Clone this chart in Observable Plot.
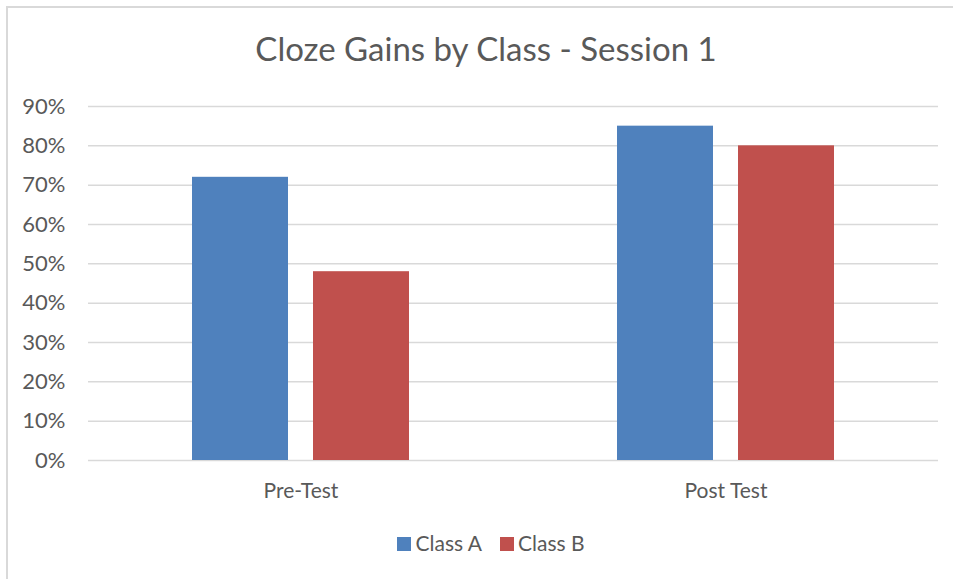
<!DOCTYPE html>
<html>
<head>
<meta charset="utf-8">
<script src="https://cdn.jsdelivr.net/npm/d3@7"></script>
<script src="https://cdn.jsdelivr.net/npm/@observablehq/plot@0.6"></script>
<style>
  html, body { margin: 0; padding: 0; background: #fff; }
  #frame { position: relative; width: 953px; height: 579px; overflow: hidden; font-family: Lato, "Open Sans", sans-serif; color: #595959; }
  #border { position: absolute; left: 6px; top: 6px; width: 1200px; height: 1200px; border-left: 2px solid #d9d9d9; border-top: 2px solid #d9d9d9; }
  #title { position: absolute; top: 29px; left: 0; width: 972px; text-align: center; font-size: 33px; line-height: 1.2; white-space: nowrap; }
  #chart { position: absolute; left: 0; top: 80px; }
  #legend { position: absolute; top: 530px; left: 0; width: 982px; display: flex; justify-content: center; align-items: center; font-size: 21px; line-height: 1.2; }
  .item { display: flex; align-items: center; margin: 0 9px; }
  .sw { width: 14px; height: 14px; margin-right: 4px; margin-top: 2px; }
</style>
</head>
<body>
<div id="frame">
  <div id="border"></div>
  <div id="title">Cloze Gains by Class - Session 1</div>
  <div id="chart"></div>
  <div id="legend"></div>
</div>
<script>
const categories = ["Pre-Test", "Post Test"];
const series = ["Class A", "Class B"];
const classA = [0.72, 0.85];
const classB = [0.48, 0.80];
const yTicks = [0, 0.1, 0.2, 0.3, 0.4, 0.5, 0.6, 0.7, 0.8, 0.9];
const colors = ["#4F81BD", "#C0504D"];

const values = [classA, classB];
const data = [];
categories.forEach((c, i) => series.forEach((s, j) => data.push({test: c, cls: s, value: values[j][i]})));

const chart = Plot.plot({
  width: 953,
  height: 440,
  marginLeft: 88,
  marginRight: 15,
  marginTop: 26,
  marginBottom: 60,
  style: {fontFamily: "Lato, 'Open Sans', sans-serif", color: "#595959", background: "transparent"},
  fx: {domain: categories, padding: 0, label: null},
  x: {domain: series, paddingInner: 0.2066, paddingOuter: 0.859, axis: null},
  y: {domain: [0, 0.9], label: null},
  color: {domain: series, range: colors},
  marks: [
    Plot.gridY(yTicks, {stroke: "#d9d9d9", strokeOpacity: 1, strokeWidth: 1.5}),
    Plot.barY(data, {fx: "test", x: "cls", y: "value", fill: "cls"}),
    Plot.axisY(yTicks, {tickSize: 0, tickPadding: 23, fontSize: 22, fill: "#595959", tickFormat: d => Math.round(d * 100) + "%", label: null}),
    Plot.axisFx({anchor: "bottom", tickSize: 0, tickPadding: 23, fontSize: 21, fill: "#595959", label: null})
  ]
});
document.getElementById("chart").appendChild(chart);

const legend = document.getElementById("legend");
series.forEach((s, i) => {
  const item = document.createElement("div");
  item.className = "item";
  const sw = document.createElement("div");
  sw.className = "sw";
  sw.style.background = colors[i];
  const label = document.createElement("span");
  label.textContent = s;
  item.appendChild(sw);
  item.appendChild(label);
  legend.appendChild(item);
});
</script>
</body>
</html>
